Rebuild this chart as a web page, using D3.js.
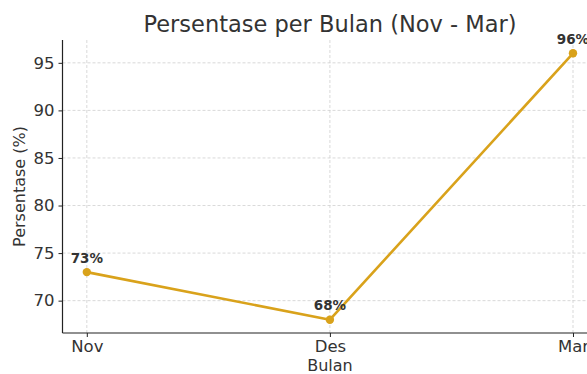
<!DOCTYPE html>
<html><head><meta charset="utf-8">
<script src="https://cdn.jsdelivr.net/npm/d3@7"></script>
<style>body{margin:0;background:#fff}svg{display:block;font-family:"DejaVu Sans",sans-serif}</style>
</head><body>
<svg id="c" width="587" height="374"></svg>
<script>
const categories = ["Nov", "Des", "Mar"];
const values = [73, 68, 96];
const yTicks = [70, 75, 80, 85, 90, 95];
const title = "Persentase per Bulan (Nov - Mar)";
const xLabel = "Bulan";
const yLabel = "Persentase (%)";

const svg = d3.select("#c");
const L = 62.5, R = 597.3, T = 40, B = 333;
const color = "#D9A21B";

const x = d3.scaleLinear().domain([-0.1, 2.1]).range([L, R]);
const ymin = 68 - 1.4, ymax = 96 + 1.4;
const y = d3.scaleLinear().domain([ymin, ymax]).range([B, T]);

// grid
const g = svg.append("g");
g.selectAll("line.h").data(yTicks).join("line")
  .attr("x1", L).attr("x2", R).attr("y1", d => y(d)).attr("y2", d => y(d))
  .attr("stroke", "#cfcfcf").attr("stroke-width", 0.8).attr("stroke-dasharray", "3,2");
g.selectAll("line.v").data(categories).join("line")
  .attr("x1", (d, i) => x(i)).attr("x2", (d, i) => x(i)).attr("y1", T).attr("y2", B)
  .attr("stroke", "#cfcfcf").attr("stroke-width", 0.8).attr("stroke-dasharray", "3,2");

// axes
const yAxis = d3.axisLeft(y).tickValues(yTicks).tickSize(4).tickPadding(4);
const ya = svg.append("g").attr("transform", `translate(${L},0)`).call(yAxis);
ya.select(".domain").attr("stroke", "#222").attr("stroke-width", 1.2).attr("d", `M0,${T}V${B}`);
ya.selectAll(".tick line").attr("stroke", "#222");
ya.selectAll(".tick text").attr("font-size", 16.5).attr("fill", "#333").attr("font-family", "DejaVu Sans");

const xAxis = d3.axisBottom(x).tickValues([0, 1, 2]).tickFormat(i => categories[i]).tickSize(4).tickPadding(3);
const xa = svg.append("g").attr("transform", `translate(0,${B})`).call(xAxis);
xa.select(".domain").attr("stroke", "#222").attr("stroke-width", 1.2).attr("d", `M${L},0H${R}`);
xa.selectAll(".tick line").attr("stroke", "#222");
xa.selectAll(".tick text").attr("font-size", 16.5).attr("fill", "#333").attr("font-family", "DejaVu Sans");

// line
svg.append("path").datum(values)
  .attr("d", d3.line().x((d, i) => x(i)).y(d => y(d)))
  .attr("fill", "none").attr("stroke", color).attr("stroke-width", 2.6).attr("stroke-linejoin", "round");
svg.selectAll("circle.pt").data(values).join("circle")
  .attr("cx", (d, i) => x(i)).attr("cy", d => y(d)).attr("r", 4.2).attr("fill", color);

// labels
svg.selectAll("text.lbl").data(values).join("text")
  .attr("x", (d, i) => x(i)).attr("y", d => y(d) - 9.5)
  .attr("text-anchor", "middle").attr("font-size", 13.5).attr("font-weight", "bold").attr("fill", "#333")
  .text(d => d + "%");

// titles
svg.append("text").attr("x", 330).attr("y", 32).attr("text-anchor", "middle")
  .attr("font-size", 22.5).attr("fill", "#333").text(title);
svg.append("text").attr("x", 330).attr("y", 371).attr("text-anchor", "middle")
  .attr("font-size", 16).attr("fill", "#333").text(xLabel);
svg.append("text").attr("transform", `translate(25,${(T + B) / 2}) rotate(-90)`).attr("text-anchor", "middle")
  .attr("font-size", 16).attr("fill", "#333").text(yLabel);
</script>
</body></html>
